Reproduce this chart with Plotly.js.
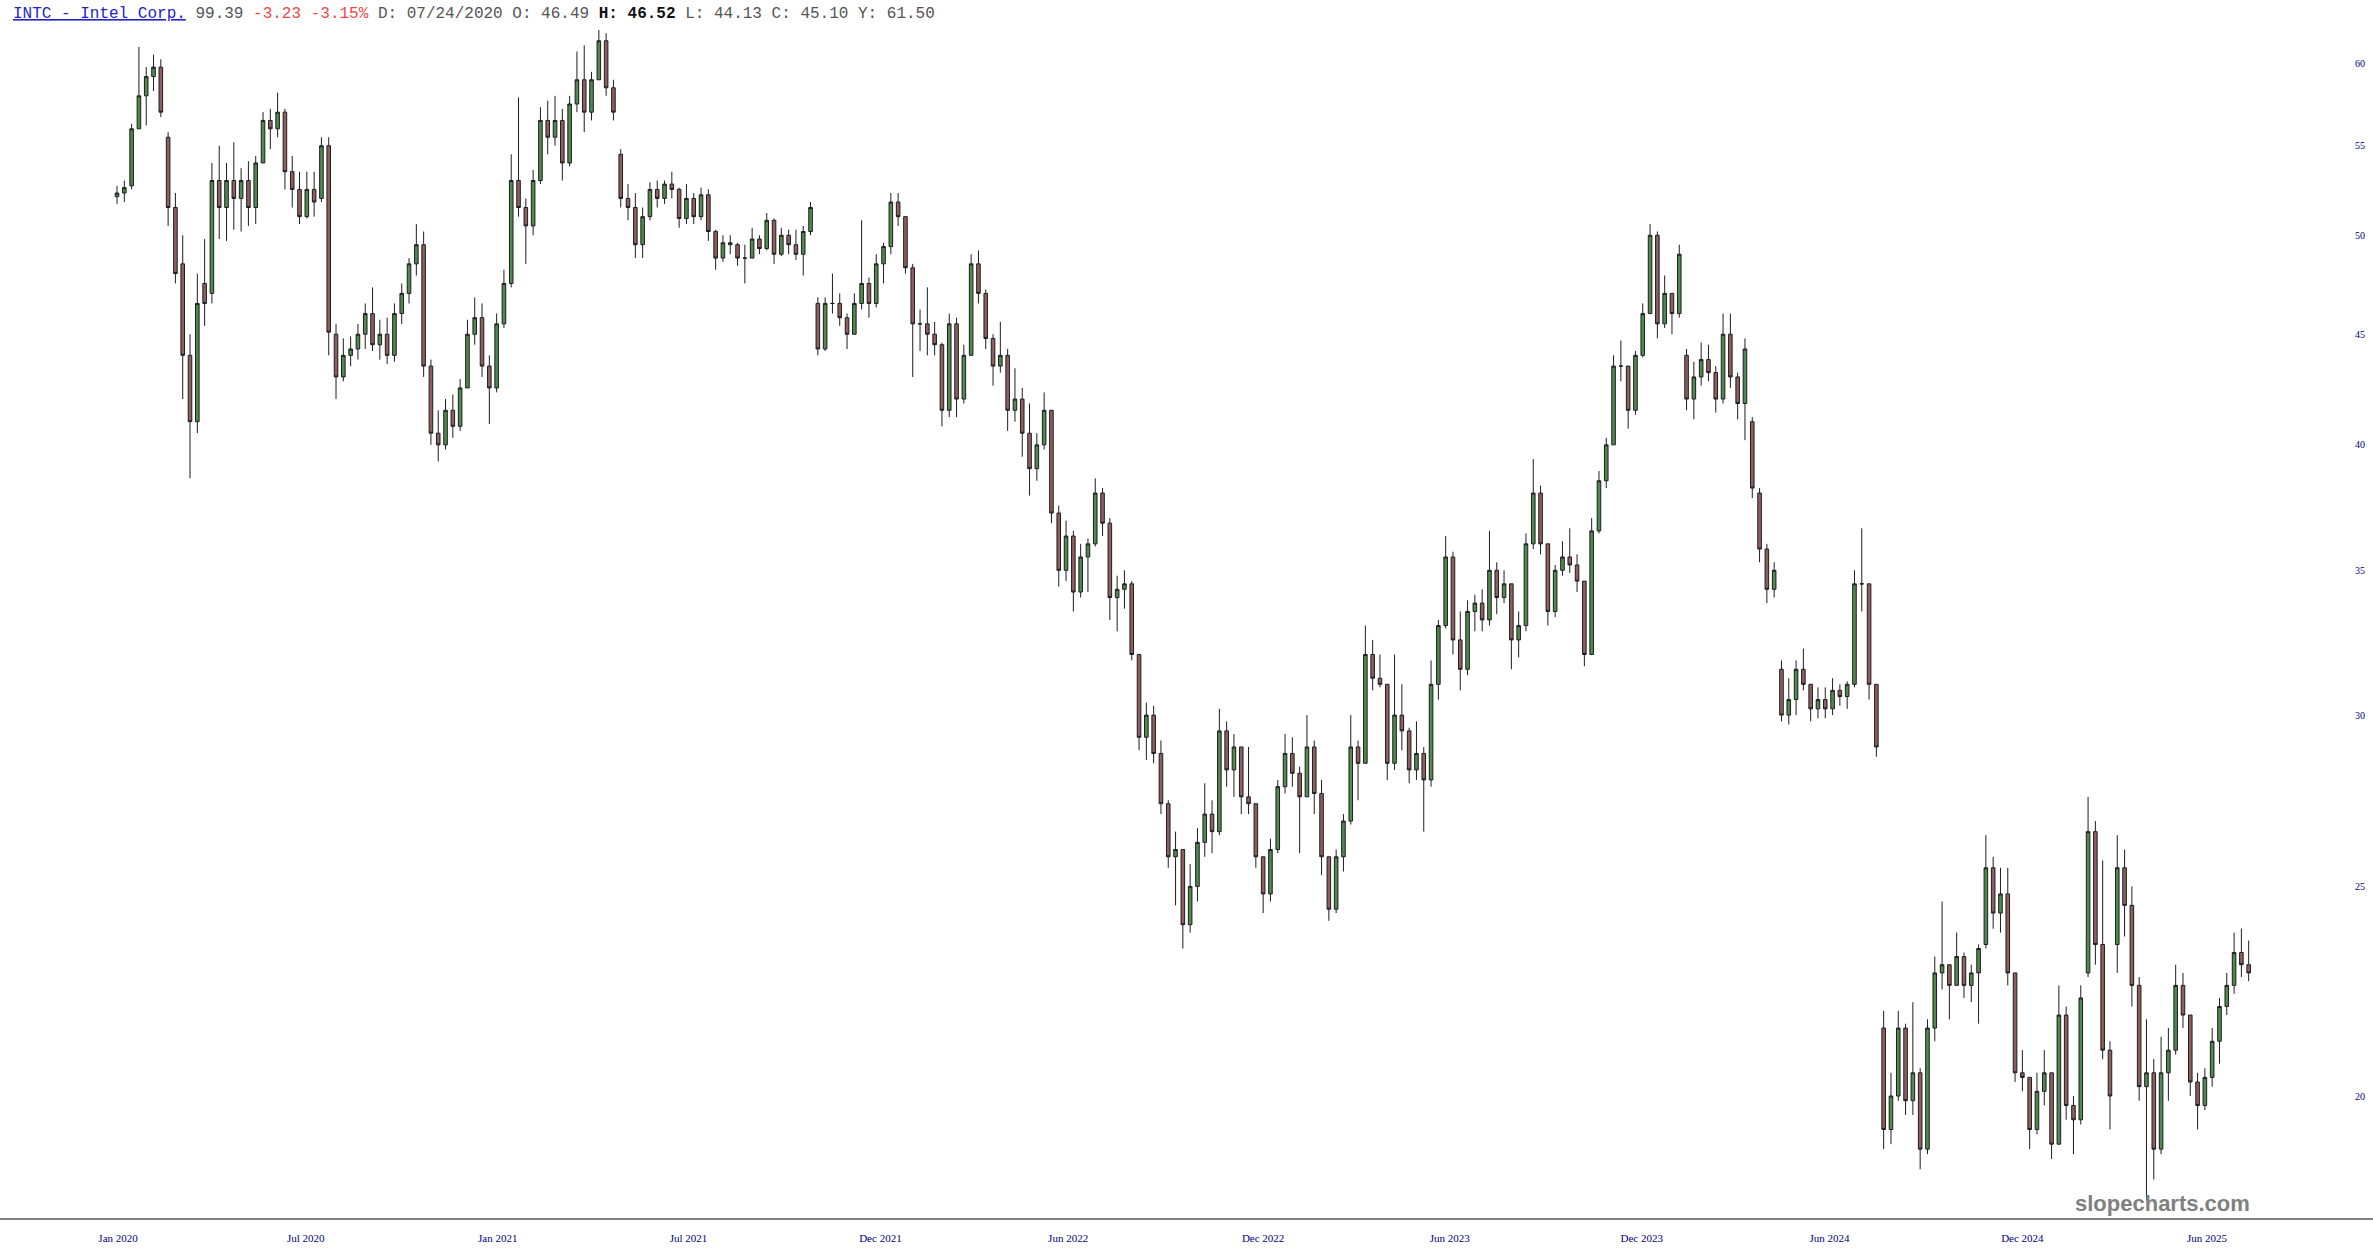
<!DOCTYPE html>
<html>
<head>
<meta charset="utf-8">
<script src="https://cdn.plot.ly/plotly-3.0.1.min.js"></script>
<style>
  html, body { margin: 0; padding: 0; background: #fff; }
  #plot { width: 2373px; height: 1260px; }
</style>
</head>
<body>
<div id="plot"></div>
<script>
// INTC weekly bars, first week starts 2020-01-01, one bar per week
var firstWeek = '2020-01-01';

var open = [
  52.1, 52.3, 52.7, 56.0, 58.0, 59.2, 59.8, 55.5, 51.5, 48.5,
  44.0, 41.0, 47.5, 47.0, 53.0, 51.5, 53.0, 52.0, 53.0, 51.5,
  54.0, 56.5, 56.0, 57.0, 53.5, 52.5, 51.0, 52.5, 52.0, 55.0,
  45.0, 43.0, 44.0, 44.3, 45.0, 46.0, 44.5, 45.0, 44.0, 46.0,
  47.0, 48.5, 49.5, 43.5, 40.5, 40.0, 41.5, 40.8, 42.5, 45.0,
  45.8, 43.5, 42.5, 45.5, 47.5, 53.0, 51.5, 50.5, 53.0, 56.5,
  55.5, 56.5, 54.0, 57.5, 59.0, 57.0, 59.0, 61.5, 58.5, 54.5,
  52.0, 51.5, 49.5, 51.0, 52.5, 52.0, 52.8, 52.5, 50.9, 52.0,
  51.0, 52.2, 50.2, 48.8, 49.6, 49.5, 48.8, 48.8, 49.8, 49.3,
  50.8, 49.0, 50.0, 49.5, 49.0, 50.2, 46.5, 44.3, 46.5, 46.5,
  45.8, 45.0, 46.5, 47.5, 46.5, 48.5, 49.4, 51.8, 51.0, 48.3,
  45.5, 45.5, 45.0, 44.5, 41.5, 45.5, 42.0, 44.0, 48.5, 47.0,
  44.8, 43.5, 44.0, 41.5, 42.0, 40.5, 39.0, 40.0, 41.5, 37.2,
  35.0, 36.3, 34.2, 35.5, 36.0, 38.0, 36.8, 34.0, 34.3, 34.5,
  32.0, 29.3, 30.0, 28.8, 27.3, 25.8, 26.0, 24.0, 25.0, 26.2,
  27.0, 26.5, 29.5, 28.3, 29.0, 27.5, 27.3, 25.8, 24.8, 26.0,
  27.8, 28.8, 28.2, 27.5, 29.0, 27.6, 25.8, 24.4, 25.8, 26.8,
  29.0, 28.5, 32.0, 31.2, 31.0, 28.5, 30.0, 29.5, 28.3, 28.8,
  28.0, 31.0, 33.0, 35.5, 32.5, 31.5, 33.5, 33.8, 33.2, 35.0,
  34.0, 34.5, 32.5, 33.0, 36.0, 38.0, 36.0, 33.5, 35.0, 35.5,
  35.2, 34.6, 32.0, 36.5, 38.5, 40.0, 43.5, 43.5, 41.5, 44.0,
  46.0, 50.0, 45.5, 47.0, 46.0, 44.0, 42.0, 43.0, 43.8, 43.2,
  42.0, 45.0, 43.0, 41.8, 41.0, 38.0, 35.8, 34.3, 31.5, 30.0,
  30.5, 31.5, 31.0, 30.2, 30.5, 30.2, 30.8, 30.6, 31.0, 34.5,
  34.5, 31.0, 21.5, 19.3, 20.0, 21.5, 19.9, 20.5, 18.9, 21.5,
  22.8, 23.0, 22.5, 23.2, 22.5, 22.8, 23.5, 25.5, 24.3, 24.8,
  22.8, 20.5, 20.4, 19.3, 20.1, 20.5, 19.0, 21.8, 19.8, 19.5,
  22.8, 26.5, 23.5, 21.0, 23.5, 25.5, 24.5, 22.5, 20.2, 20.5,
  18.9, 20.5, 21.0, 22.5, 21.8, 20.3, 19.8, 20.4, 21.2, 22.0,
  22.5, 23.3, 23.0
];

var high = [
  52.7, 53.0, 56.3, 61.1, 59.8, 60.6, 60.3, 55.8, 52.3, 50.0,
  45.0, 48.0, 49.8, 54.0, 55.0, 54.0, 55.2, 53.7, 54.1, 54.4,
  57.0, 57.2, 58.2, 57.2, 54.4, 53.5, 53.5, 53.5, 55.5, 55.5,
  45.5, 44.8, 44.9, 45.5, 46.5, 47.3, 45.7, 45.8, 46.5, 47.5,
  48.8, 50.6, 50.2, 43.8, 41.5, 42.0, 42.2, 42.9, 45.7, 46.8,
  46.5, 44.0, 46.0, 48.2, 54.5, 57.9, 52.0, 53.6, 57.3, 57.7,
  58.0, 57.2, 58.0, 60.8, 61.2, 59.5, 62.5, 62.0, 59.0, 54.8,
  52.8, 52.3, 51.5, 52.9, 53.0, 53.0, 53.5, 52.6, 52.8, 52.3,
  52.6, 52.5, 50.3, 50.0, 50.0, 49.6, 49.5, 50.4, 50.0, 51.2,
  50.9, 50.4, 50.3, 50.3, 50.5, 51.8, 46.8, 46.8, 48.0, 47.0,
  46.0, 47.0, 50.8, 47.8, 49.0, 49.6, 52.3, 52.3, 51.0, 48.5,
  46.2, 47.3, 45.6, 44.6, 46.0, 45.8, 44.5, 49.0, 49.2, 47.2,
  45.0, 45.6, 44.3, 43.4, 42.5, 41.8, 40.5, 42.3, 41.5, 37.5,
  36.9, 36.5, 36.0, 36.2, 38.6, 38.2, 37.0, 34.8, 35.0, 34.6,
  32.0, 30.4, 30.3, 29.2, 27.4, 26.5, 26.0, 25.6, 26.6, 27.9,
  27.4, 30.2, 29.8, 29.4, 29.0, 29.0, 27.3, 25.8, 26.3, 28.0,
  29.4, 29.3, 28.4, 30.0, 29.2, 28.0, 25.8, 26.0, 27.0, 30.0,
  29.2, 33.0, 32.5, 32.0, 31.0, 32.0, 31.0, 29.6, 29.8, 29.0,
  31.8, 33.2, 36.3, 35.7, 33.5, 33.9, 34.1, 34.3, 36.5, 35.3,
  35.0, 34.5, 33.5, 36.4, 39.4, 38.3, 36.0, 35.2, 36.1, 36.6,
  35.6, 34.6, 37.0, 38.9, 40.3, 44.0, 44.7, 43.5, 44.2, 46.5,
  50.6, 50.2, 47.9, 47.0, 49.5, 44.3, 43.7, 44.6, 44.5, 43.5,
  46.0, 46.0, 43.2, 44.8, 41.2, 38.2, 36.0, 35.3, 31.8, 31.2,
  31.8, 32.2, 31.0, 30.9, 30.9, 31.2, 31.0, 31.1, 35.0, 36.6,
  34.5, 31.0, 21.9, 20.5, 21.9, 21.6, 22.1, 20.6, 21.7, 23.2,
  24.6, 23.0, 23.8, 23.3, 23.0, 23.5, 26.4, 25.8, 25.5, 25.5,
  22.8, 21.0, 20.4, 20.5, 21.0, 20.5, 22.5, 22.0, 20.0, 22.5,
  27.5, 26.8, 25.7, 21.2, 26.4, 26.0, 25.0, 22.7, 21.7, 20.8,
  21.3, 21.5, 23.0, 22.8, 21.8, 20.5, 20.6, 21.5, 22.2, 22.8,
  23.8, 23.9, 23.6
];

var low = [
  51.7, 51.8, 52.5, 56.0, 56.2, 58.3, 56.7, 50.5, 47.5, 42.0,
  38.6, 40.5, 45.4, 46.5, 49.8, 49.7, 50.3, 50.2, 50.5, 50.6,
  54.0, 54.8, 55.5, 52.5, 51.5, 50.6, 50.9, 51.0, 51.8, 44.0,
  42.0, 42.8, 43.5, 43.8, 44.3, 44.2, 43.8, 43.6, 43.7, 45.5,
  46.5, 47.9, 43.0, 40.0, 39.3, 39.8, 40.3, 40.6, 42.5, 44.5,
  43.0, 40.9, 42.3, 45.3, 47.3, 51.0, 48.5, 50.0, 52.8, 54.5,
  55.0, 53.0, 53.8, 57.0, 55.8, 56.5, 59.0, 58.0, 56.5, 51.5,
  50.8, 48.8, 48.8, 50.8, 51.5, 51.7, 52.0, 50.4, 50.6, 50.6,
  50.8, 49.7, 48.2, 48.6, 49.0, 48.4, 47.5, 48.8, 49.0, 49.2,
  48.5, 48.9, 49.0, 48.7, 47.9, 50.0, 44.0, 44.2, 46.0, 45.4,
  44.3, 45.0, 46.2, 45.8, 46.3, 47.5, 49.0, 50.5, 48.0, 43.0,
  44.2, 44.0, 44.0, 40.8, 41.2, 41.2, 41.8, 44.0, 46.5, 44.3,
  42.6, 43.2, 40.6, 41.0, 39.5, 37.9, 38.5, 39.8, 36.8, 34.4,
  34.6, 33.5, 34.0, 34.2, 35.9, 36.3, 33.2, 32.8, 33.6, 31.8,
  28.9, 28.6, 28.5, 27.0, 25.5, 24.5, 23.4, 23.8, 24.6, 25.8,
  25.9, 26.4, 27.8, 27.5, 27.0, 27.0, 25.5, 24.3, 24.6, 25.9,
  27.6, 27.8, 25.9, 27.5, 27.0, 25.3, 24.1, 24.3, 25.4, 26.7,
  27.4, 28.5, 30.8, 30.9, 28.0, 28.3, 28.9, 27.9, 28.0, 26.5,
  27.8, 30.5, 32.9, 32.0, 30.8, 31.3, 32.8, 32.8, 33.0, 33.4,
  33.8, 31.5, 31.9, 32.8, 35.8, 35.6, 33.0, 33.3, 34.8, 34.9,
  34.2, 31.6, 32.0, 36.4, 38.2, 40.0, 42.8, 40.7, 41.3, 43.9,
  46.0, 44.8, 45.3, 45.0, 45.8, 41.5, 41.1, 42.6, 42.8, 41.4,
  41.8, 42.5, 41.1, 40.2, 37.8, 35.3, 33.8, 34.0, 29.8, 29.7,
  30.0, 30.8, 29.8, 29.9, 29.9, 30.0, 30.3, 30.2, 30.9, 33.5,
  30.5, 28.7, 18.9, 19.0, 19.9, 19.6, 19.6, 18.5, 18.8, 21.2,
  22.4, 21.7, 22.5, 22.2, 22.1, 21.6, 23.4, 23.9, 23.8, 22.5,
  20.3, 20.1, 18.9, 19.2, 19.8, 18.7, 19.0, 19.5, 18.8, 19.4,
  22.7, 23.0, 20.8, 19.3, 22.8, 23.7, 22.0, 19.9, 17.9, 18.3,
  18.8, 19.9, 20.9, 21.5, 20.0, 19.3, 19.7, 20.2, 20.7, 21.8,
  22.3, 22.7, 22.6
];

var close = [
  52.3, 52.6, 56.0, 58.0, 59.2, 59.8, 57.0, 51.5, 48.0, 44.0,
  41.0, 46.5, 46.5, 53.0, 51.5, 53.0, 52.0, 53.0, 51.5, 54.0,
  56.5, 56.0, 57.0, 53.5, 52.5, 51.0, 52.5, 51.8, 55.0, 45.1,
  43.0, 44.0, 44.3, 45.0, 46.0, 44.5, 45.0, 44.0, 46.0, 47.0,
  48.5, 49.5, 43.5, 40.5, 40.0, 41.5, 40.8, 42.5, 45.0, 45.8,
  43.5, 42.5, 45.5, 47.5, 53.0, 51.5, 50.5, 53.0, 56.5, 55.5,
  56.5, 54.0, 57.5, 59.0, 57.0, 59.0, 61.5, 58.5, 57.0, 52.0,
  51.5, 49.5, 51.0, 52.5, 52.0, 52.8, 52.5, 50.9, 52.0, 51.0,
  52.2, 50.2, 48.8, 49.6, 49.5, 48.8, 48.8, 49.8, 49.3, 50.8,
  49.0, 50.0, 49.5, 49.0, 50.2, 51.5, 44.3, 46.5, 46.5, 45.8,
  45.0, 46.5, 47.5, 46.5, 48.5, 49.4, 51.8, 51.0, 48.3, 45.5,
  45.5, 45.0, 44.5, 41.5, 45.5, 42.0, 44.0, 48.5, 47.0, 44.8,
  43.5, 44.0, 41.5, 42.0, 40.5, 39.0, 40.0, 41.5, 37.2, 35.0,
  36.3, 34.2, 35.5, 36.0, 38.0, 36.8, 34.0, 34.3, 34.5, 32.0,
  29.3, 30.0, 28.8, 27.3, 25.8, 26.0, 24.0, 25.0, 26.2, 27.0,
  26.5, 29.5, 28.3, 29.0, 27.5, 27.3, 25.8, 24.8, 26.0, 27.8,
  28.8, 28.2, 27.5, 29.0, 27.6, 25.8, 24.4, 25.8, 26.8, 29.0,
  28.5, 32.0, 31.2, 31.0, 28.5, 30.0, 29.5, 28.3, 28.8, 28.0,
  31.0, 33.0, 35.5, 32.5, 31.5, 33.5, 33.8, 33.2, 35.0, 34.0,
  34.5, 32.5, 33.0, 36.0, 38.0, 36.0, 33.5, 35.0, 35.5, 35.2,
  34.6, 32.0, 36.5, 38.5, 40.0, 43.5, 43.5, 41.5, 44.0, 46.0,
  50.0, 45.5, 47.0, 46.0, 49.0, 42.0, 43.0, 43.8, 43.2, 42.0,
  45.0, 43.0, 41.8, 44.3, 38.2, 35.8, 34.3, 35.0, 30.0, 30.5,
  31.5, 31.0, 30.2, 30.5, 30.2, 30.8, 30.6, 31.0, 34.5, 34.5,
  31.0, 29.0, 19.3, 20.0, 21.5, 19.9, 20.5, 18.9, 21.5, 22.8,
  23.0, 22.5, 23.2, 22.5, 22.8, 23.4, 25.5, 24.3, 24.8, 22.8,
  20.5, 20.4, 19.3, 20.1, 20.5, 19.0, 21.8, 19.8, 19.5, 22.2,
  26.5, 23.5, 21.0, 20.0, 25.5, 24.5, 22.5, 20.2, 20.5, 18.9,
  20.5, 21.0, 22.5, 21.8, 20.3, 19.8, 20.4, 21.2, 22.0, 22.5,
  23.3, 23.0, 22.8
];

// axis labels
var xTickDates = ['2020-01-02', '2020-06-30', '2020-12-31', '2021-07-02', '2022-01-02', '2022-07-01',
                  '2023-01-04', '2023-07-02', '2024-01-02', '2024-06-30', '2025-01-01', '2025-06-27'];
var xTickLabels = ['Jan 2020', 'Jul 2020', 'Jan 2021', 'Jul 2021', 'Dec 2021', 'Jun 2022',
                   'Dec 2022', 'Jun 2023', 'Dec 2023', 'Jun 2024', 'Dec 2024', 'Jun 2025'];
var yTicks = [20, 25, 30, 35, 40, 45, 50, 55, 60];

// one date per weekly bar
var t0 = Date.parse(firstWeek + 'T00:00:00Z');
var dates = open.map(function (v, i) {
  return new Date(t0 + i * 7 * 86400000).toISOString().slice(0, 10);
});

var trace = {
  type: 'candlestick',
  x: dates,
  open: open,
  high: high,
  low: low,
  close: close,
  increasing: { line: { color: '#1e1e1e', width: 1 }, fillcolor: '#4f8a4f' },
  decreasing: { line: { color: '#1e1e1e', width: 1 }, fillcolor: '#8f5f5f' },
  whiskerwidth: 0,
  hoverinfo: 'skip'
};

var header =
  '<span style="color:#2424c8;text-decoration:underline">INTC - Intel Corp.</span> ' +
  '<span style="color:#555">99.39</span> ' +
  '<span style="color:#f04848">-3.23 -3.15%</span> ' +
  '<span style="color:#555">D: 07/24/2020 O: 46.49</span> ' +
  '<b style="color:#111">H: 46.52</b> ' +
  '<span style="color:#555">L: 44.13 C: 45.10 Y: 61.50</span>';

var layout = {
  width: 2373,
  height: 1260,
  margin: { l: 0, r: 0, t: 30, b: 42 },
  paper_bgcolor: '#ffffff',
  plot_bgcolor: '#ffffff',
  showlegend: false,
  hovermode: false,
  xaxis: {
    type: 'date',
    range: ['2019-09-10 19:00', '2025-12-03 05:00'],
    showgrid: false,
    zeroline: false,
    showline: true,
    linecolor: '#808080',
    linewidth: 2,
    ticks: '',
    ticklabelstandoff: 9,
    tickvals: xTickDates,
    ticktext: xTickLabels,
    tickfont: { family: 'Liberation Serif, serif', size: 11, color: '#000080' },
    rangeslider: { visible: false },
    fixedrange: true
  },
  yaxis: {
    type: 'log',
    range: [1.244627, 1.793864],
    side: 'right',
    ticklabelposition: 'inside',
    ticklabelstandoff: 5,
    tickvals: yTicks,
    ticktext: yTicks.map(String),
    showgrid: false,
    zeroline: false,
    showline: false,
    ticks: '',
    tickfont: { family: 'Liberation Serif, serif', size: 10, color: '#000080' },
    fixedrange: true
  },
  annotations: [
    {
      text: header,
      xref: 'paper', yref: 'paper',
      x: 0.0046, y: 1.0135,
      xanchor: 'left', yanchor: 'middle',
      showarrow: false,
      font: { family: 'Liberation Mono, monospace', size: 16, color: '#555' }
    },
    {
      text: '<b>slopecharts.com</b>',
      xref: 'paper', yref: 'paper',
      x: 0.9111, y: 0.0126,
      xanchor: 'center', yanchor: 'middle',
      showarrow: false,
      font: { family: 'Liberation Sans, Arial, sans-serif', size: 22, color: '#808080' }
    }
  ]
};

Plotly.newPlot('plot', [trace], layout, { displayModeBar: false, staticPlot: true });
</script>
</body>
</html>
